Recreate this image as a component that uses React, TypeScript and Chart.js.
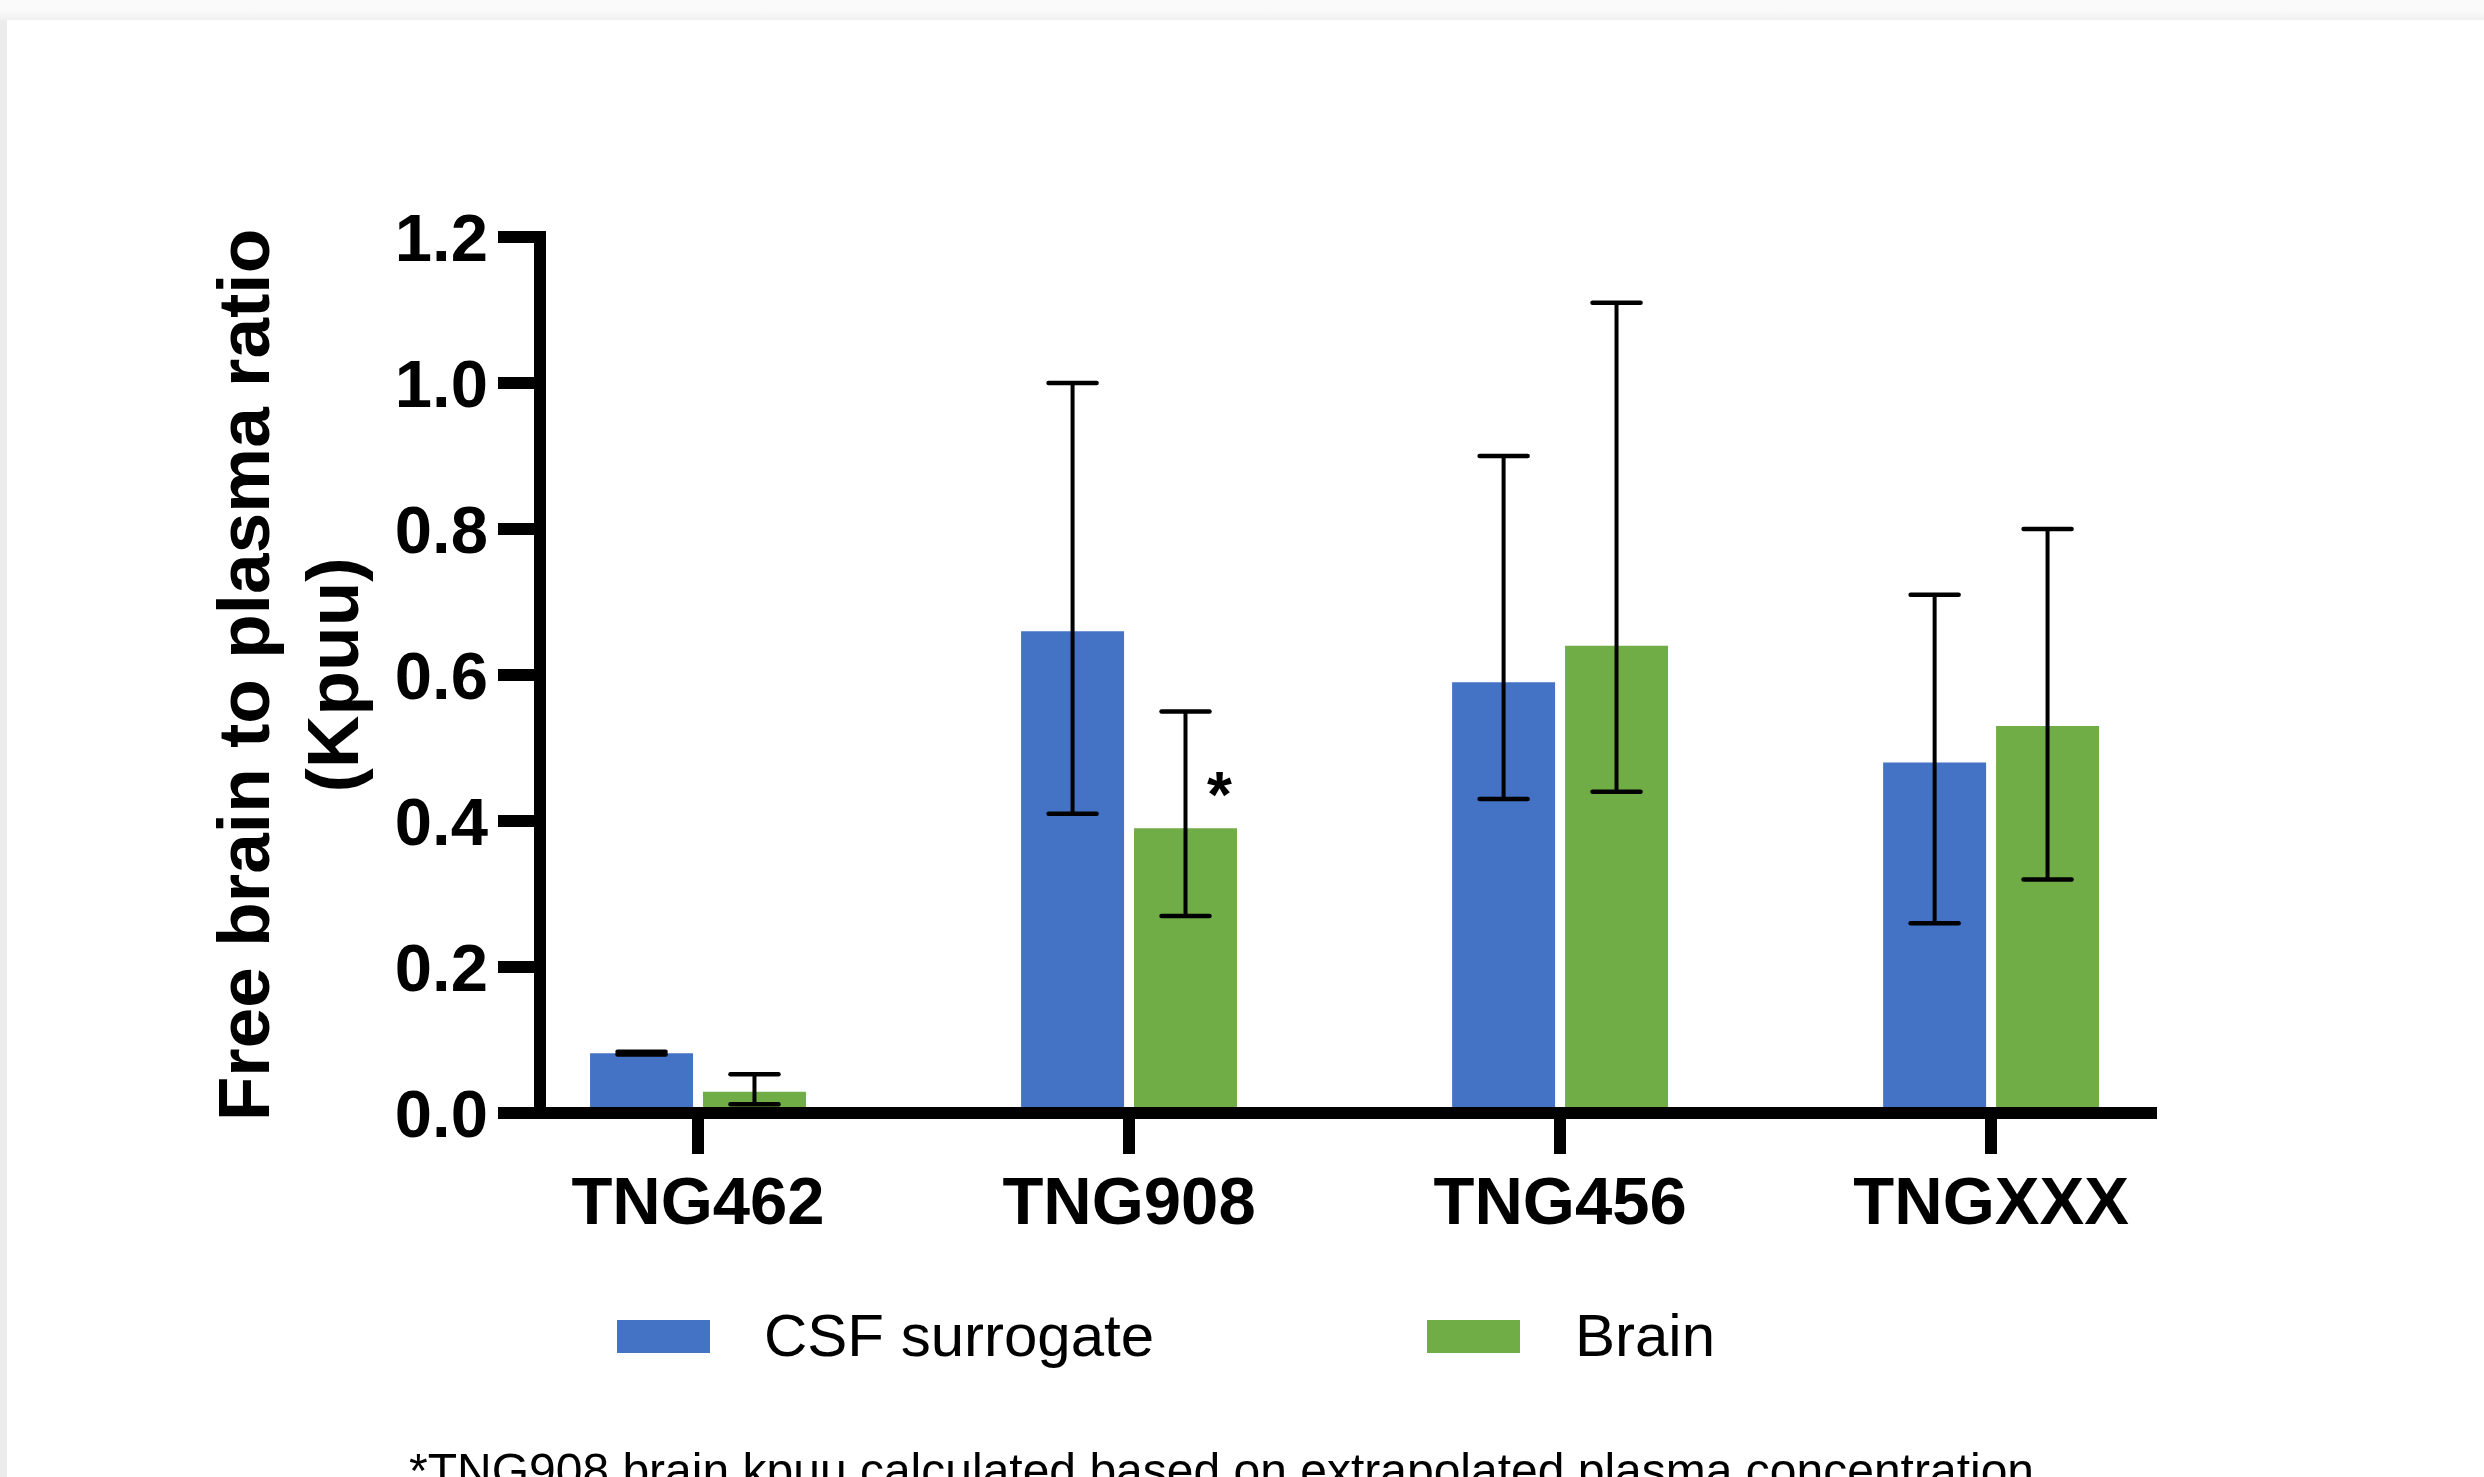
import React, { useEffect, useRef } from "react";
import { Chart, registerables } from "chart.js";

Chart.register(...registerables);

// ---- data ----
const categories = ["TNG462", "TNG908", "TNG456", "TNGXXX"];
const seriesNames = ["CSF surrogate", "Brain"];
const seriesColors = ["#4472C4", "#70AD47"];
const csfValues = [0.082, 0.66, 0.59, 0.48];
const csfUpper = [0.084, 1.0, 0.9, 0.71];
const csfLower = [0.08, 0.41, 0.43, 0.26];
const brainValues = [0.029, 0.39, 0.64, 0.53];
const brainUpper = [0.053, 0.55, 1.11, 0.8];
const brainLower = [0.012, 0.27, 0.44, 0.32];
const yTicks = [0, 0.2, 0.4, 0.6, 0.8, 1.0, 1.2];
const yTitle = ["Free brain to plasma ratio", "(Kpuu)"];
const footnote =
  "*TNG908 brain kpuu calculated based on extrapolated plasma concentration";
const starNote = { category: 1, series: 1, value: 0.405, text: "*" };

const seriesValues = [csfValues, brainValues];
const seriesUpper = [csfUpper, brainUpper];
const seriesLower = [csfLower, brainLower];

const FONT = "'Liberation Sans', Arial, Helvetica, sans-serif";

const errorBarPlugin = {
  id: "errorBars",
  afterDatasetsDraw(chart: any) {
    const ctx = chart.ctx;
    const yScale = chart.scales.y;
    chart.data.datasets.forEach((_ds: any, di: number) => {
      const meta = chart.getDatasetMeta(di);
      meta.data.forEach((bar: any, i: number) => {
        const x = bar.x;
        const yU = yScale.getPixelForValue(seriesUpper[di][i]);
        const yL = yScale.getPixelForValue(seriesLower[di][i]);
        ctx.save();
        ctx.strokeStyle = "#000";
        ctx.lineWidth = 4;
        ctx.lineCap = "butt";
        ctx.beginPath();
        ctx.moveTo(x, yU);
        ctx.lineTo(x, yL);
        ctx.stroke();
        ctx.lineCap = "round";
        ctx.lineWidth = 4.5;
        [yU, yL].forEach((yy) => {
          ctx.beginPath();
          ctx.moveTo(x - 24, yy);
          ctx.lineTo(x + 24, yy);
          ctx.stroke();
        });
        ctx.restore();
      });
    });
    // significance star
    const bar = chart.getDatasetMeta(starNote.series).data[starNote.category];
    if (bar) {
      ctx.save();
      ctx.fillStyle = "#000";
      ctx.font = `bold 64px ${FONT}`;
      ctx.textAlign = "center";
      ctx.textBaseline = "alphabetic";
      ctx.fillText(
        starNote.text,
        bar.x + bar.width * 0.33,
        yScale.getPixelForValue(starNote.value)
      );
      ctx.restore();
    }
  },
};

export default function App() {
  const ref = useRef<HTMLCanvasElement>(null);

  useEffect(() => {
    const canvas = ref.current;
    if (!canvas) return;
    const chart = new Chart(canvas, {
      type: "bar",
      data: {
        datasets: seriesNames.map((name, si) => ({
          label: name,
          data: categories.map((_, i) => ({ x: i, y: seriesValues[si][i] })),
          backgroundColor: seriesColors[si],
          borderWidth: 0,
        })),
      },
      options: {
        responsive: false,
        animation: false,
        devicePixelRatio: 1,
        layout: { padding: { left: 200, right: 333, top: 237, bottom: 244 } },
        plugins: {
          legend: { display: false },
          tooltip: { enabled: false },
        },
        datasets: {
          bar: { categoryPercentage: 0.524, barPercentage: 0.912 },
        },
        scales: {
          x: {
            type: "linear",
            min: -0.3666,
            max: 3.371,
            bounds: "data",
            offset: false,
            afterBuildTicks: (s: any) => {
              s.ticks = categories.map((_, i) => ({ value: i }));
            },
            afterFit: (s: any) => {
              s.height = 120;
            },
            ticks: {
              autoSkip: false,
              maxRotation: 0,
              minRotation: 0,
              padding: 11,
              color: "#000",
              font: { family: FONT, size: 67, weight: "bold" },
              callback: (v: any) => categories[v as number] ?? "",
            },
            grid: {
              display: true,
              offset: false,
              drawOnChartArea: false,
              drawTicks: true,
              tickLength: 41,
              lineWidth: 12,
              tickWidth: 12,
              color: "#000",
              tickColor: "#000",
            },
            border: { display: true, width: 12, color: "#000", z: 1 },
          },
          y: {
            type: "linear",
            min: 0,
            max: 1.2,
            afterBuildTicks: (s: any) => {
              s.ticks = yTicks.map((v) => ({ value: v }));
            },
            afterFit: (s: any) => {
              s.width = 340;
            },
            ticks: {
              padding: 10,
              labelOffset: 6,
              color: "#000",
              font: { family: FONT, size: 67, weight: "bold" },
              callback: (v: any) => Number(v).toFixed(1),
            },
            grid: {
              display: true,
              offset: false,
              drawOnChartArea: false,
              drawTicks: true,
              tickLength: 42,
              lineWidth: 12,
              tickWidth: 12,
              color: "#000",
              tickColor: "#000",
            },
            border: { display: true, width: 12, color: "#000", z: 1 },
            title: {
              display: true,
              text: yTitle,
              color: "#000",
              font: { family: FONT, size: 73, weight: "bold", lineHeight: 1.22 },
              padding: { top: 4, bottom: 0 },
            },
          },
        },
      } as any,
      plugins: [errorBarPlugin],
    });
    return () => chart.destroy();
  }, []);

  const legendItems = [
    { box: 617, text: 764 },
    { box: 1427, text: 1575 },
  ];

  return (
    <div
      style={{
        position: "fixed",
        left: 0,
        top: 0,
        width: 2484,
        height: 1477,
        overflow: "hidden",
        background: "#f6f6f6",
        fontFamily: FONT,
      }}
    >
      <div
        style={{
          position: "absolute",
          left: 0,
          top: 0,
          width: 2484,
          height: 20,
          background: "linear-gradient(#fafafa 0%, #fafafa 55%, #f0f0f0 100%)",
        }}
      />
      <div
        style={{
          position: "absolute",
          left: 0,
          top: 20,
          width: 7,
          bottom: 0,
          background: "#ececec",
        }}
      />
      <div
        style={{
          position: "absolute",
          left: 7,
          top: 20,
          right: 0,
          bottom: 0,
          background: "#ffffff",
        }}
      />
      <canvas
        ref={ref}
        width={2484}
        height={1477}
        style={{ position: "absolute", left: 0, top: 0, width: 2484, height: 1477 }}
      />
      {seriesNames.map((name, si) => (
        <React.Fragment key={name}>
          <div
            style={{
              position: "absolute",
              left: legendItems[si].box,
              top: 1320,
              width: 93,
              height: 33,
              background: seriesColors[si],
            }}
          />
          <div
            style={{
              position: "absolute",
              left: legendItems[si].text,
              top: 1306,
              fontSize: 60,
              lineHeight: "60px",
              color: "#000",
              whiteSpace: "nowrap",
            }}
          >
            {name}
          </div>
        </React.Fragment>
      ))}
      <div
        style={{
          position: "absolute",
          left: 409,
          top: 1447,
          fontSize: 48,
          lineHeight: "48px",
          color: "#000",
          whiteSpace: "nowrap",
        }}
      >
        {footnote}
      </div>
    </div>
  );
}
